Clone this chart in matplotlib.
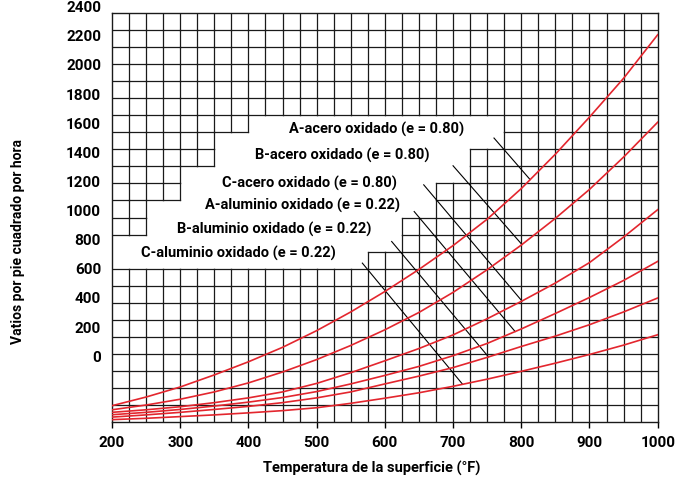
import numpy as np
import matplotlib
matplotlib.use('Agg')
import matplotlib.pyplot as plt
from matplotlib.collections import LineCollection
import matplotlib.transforms as mtransforms

plt.rcParams['font.family'] = ['Roboto', 'DejaVu Sans']
plt.rcParams['font.weight'] = 'bold'

# temperatura (F) y curvas
temps = [200, 250, 300, 350, 400, 450, 500, 550, 600, 650, 700, 750, 800, 850, 900, 950, 1000]
acero_a = [94, 145, 204, 275, 352, 437, 535, 645, 765, 895, 1035, 1190, 1370, 1572, 1790, 2018, 2274]
acero_b = [70, 98, 132, 175, 228, 292, 365, 448, 540, 642, 760, 893, 1038, 1195, 1365, 1555, 1760]
acero_c = [55, 70, 88, 112, 140, 175, 225, 288, 358, 430, 510, 605, 707, 815, 935, 1085, 1246]
alum_a = [41, 55, 72, 92, 115, 142, 177, 222, 272, 325, 388, 460, 545, 636, 730, 830, 942]
alum_b = [27, 40, 55, 72, 90, 112, 140, 175, 222, 268, 318, 378, 442, 503, 570, 645, 727]
alum_c = [12, 20, 30, 40, 52, 65, 82, 108, 138, 170, 208, 250, 296, 344, 395, 450, 511]

labels = ['A-acero oxidado (e = 0.80)', 'B-acero oxidado (e = 0.80)', 'C-acero oxidado (e = 0.80)',
          'A-aluminio oxidado (e = 0.22)', 'B-aluminio oxidado (e = 0.22)', 'C-aluminio oxidado (e = 0.22)']
curves = [acero_a, acero_b, acero_c, alum_a, alum_b, alum_c]

# etiqueta: borde derecho del texto, linea guia (inicio) y punto sobre la curva
label_pos = [(716, 1720), (666, 1565), (617, 1400), (622, 1270), (580, 1128), (528, 987)]
leader_start = [(760, 1667), (700, 1504), (657, 1392), (643, 1235), (610, 1059), (567, 932)]
leader_end_t = [813, 801, 801, 791, 752, 714]

xticks = [200, 300, 400, 500, 600, 700, 800, 900, 1000]
ytick_labels = ['0', '200', '400', '600', '800', '1000', '1200', '1400', '1600', '1800', '2000', '2200', '2400']

# zona blanca (filas desde arriba): columna donde termina la reja izquierda / empieza la derecha
hole_rows = [6, 7, 8, 9, 10, 11, 12, 13, 14]
hole_left = [8, 6, 6, 4, 4, 2, 2, 0, 0]
hole_right = [23, 23, 21, 21, 19, 19, 17, 17, 15]

n_rows, n_cols = 24, 32
empty = np.zeros((n_rows, n_cols), dtype=bool)
for r, a, b in zip(hole_rows, hole_left, hole_right):
    empty[r, a:b] = True

fig = plt.figure(figsize=(6.82, 4.82), dpi=100)
ax = fig.add_axes([112 / 682, 1 - 421.7 / 482, 545.7 / 682, 408.4 / 482])
ax.set_xlim(200, 1000)
ax.set_ylim(0, 2400)

def col_x(c):
    return 200 + 25 * c

def row_y(r):
    return 2400 - 100 * r

segs = []
# lineas horizontales
for b in range(1, n_rows):
    for c in range(n_cols):
        if not (empty[b - 1, c] and empty[b, c]):
            segs.append([(col_x(c), row_y(b)), (col_x(c + 1), row_y(b))])
# lineas verticales
for c in range(1, n_cols):
    for r in range(n_rows):
        if not (empty[r, c - 1] and empty[r, c]):
            segs.append([(col_x(c), row_y(r)), (col_x(c), row_y(r + 1))])
ax.add_collection(LineCollection(segs, colors='#1a1a1a', linewidths=0.9, capstyle='projecting', zorder=1))

for sp in ax.spines.values():
    sp.set_linewidth(1.0)
    sp.set_color('#1a1a1a')

for y in curves:
    ax.plot(temps, y, color='#e3262e', lw=1.2, zorder=3)

for i, lab in enumerate(labels):
    tx, ty = label_pos[i]
    ax.text(tx, ty, lab, ha='right', va='center', fontsize=10.5, fontweight='bold', zorder=4)
    x0, y0 = leader_start[i]
    x1 = leader_end_t[i]
    y1 = np.interp(x1, temps, curves[i])
    ax.plot([x0, x1], [y0, y1], color='black', lw=0.8, zorder=2)

ax.set_xticks(xticks)
ax.set_xticklabels([str(t) for t in xticks], fontsize=11, fontweight='bold')
ax.tick_params(axis='x', direction='out', length=4.5, width=1, pad=6)
ax.set_yticks([])

trans = mtransforms.blended_transform_factory(ax.transAxes, ax.transData)
ypos = np.linspace(376, 2430, len(ytick_labels))
for yp, lab in zip(ypos, ytick_labels):
    ax.text(-0.02, yp, lab, transform=trans, ha='right', va='center', fontsize=11,
            fontweight='bold', clip_on=False)

fig.text(372 / 682, 1 - 468 / 482, 'Temperatura de la superficie (°F)', ha='center', va='center',
         fontsize=10.5, fontweight='bold')
fig.text(18 / 682, 1 - 241 / 482, 'Vatios por pie cuadrado por hora', ha='center', va='center',
         rotation=90, fontsize=10, fontweight='bold')

fig.savefig('out.png', dpi=100)
